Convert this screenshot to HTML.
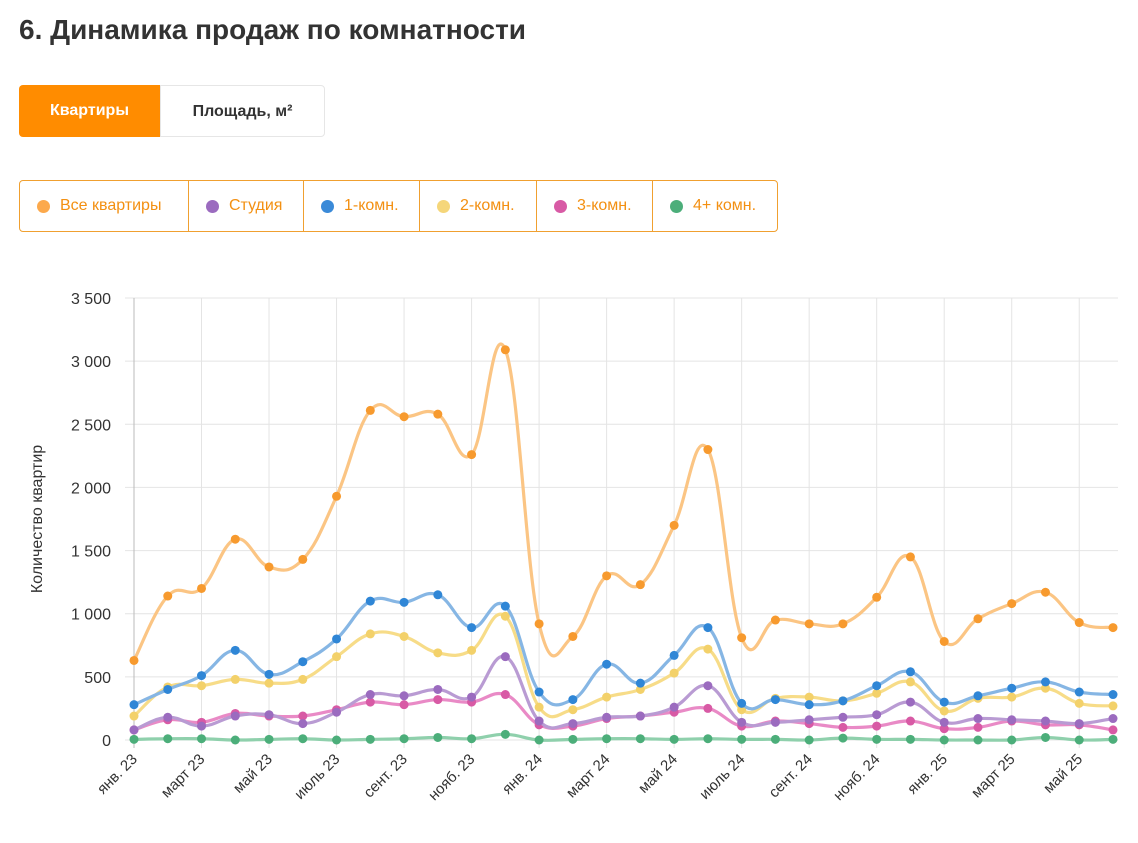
<!DOCTYPE html>
<html><head><meta charset="utf-8"><style>
body{margin:0;background:#fff;font-family:"Liberation Sans",sans-serif;width:1138px;height:843px;overflow:hidden;position:relative}
h1{position:absolute;left:19px;top:14px;margin:0;font-size:28px;font-weight:bold;color:#333}
.tab{position:absolute;top:85px;height:52px;line-height:52px;text-align:center;font-size:16px;font-weight:bold;box-sizing:border-box}
.leg{position:absolute;top:180px;height:52px;display:flex}
.li{border:1px solid #f0a030;margin-left:-1px;display:flex;align-items:center;padding:0 16px 0 17px;color:#f39012;font-size:16px;box-sizing:border-box;height:52px}
.li:first-child{border-radius:4px 0 0 4px;margin-left:0}.li:last-child{border-radius:0 4px 4px 0}
.dot{width:13px;height:13px;border-radius:50%;margin-right:10px}
svg{position:absolute;left:0;top:0}
</style></head><body>
<h1>6. Динамика продаж по комнатности</h1>
<div class="tab" style="left:19px;width:141px;background:#ff8c00;color:#fff;border-radius:4px 0 0 4px">Квартиры</div>
<div class="tab" style="left:160px;width:165px;border:1px solid #e6e6e6;color:#333;border-radius:0 4px 4px 0">Площадь, м²</div>
<div class="leg" style="left:19px">
<div class="li" style="width:170px"><span class="dot" style="background:#fca94c"></span>Все квартиры</div>
<div class="li" style="width:116px"><span class="dot" style="background:#9b6bbf"></span>Студия</div>
<div class="li" style="width:117px"><span class="dot" style="background:#3a8ad8"></span>1-комн.</div>
<div class="li" style="width:118px"><span class="dot" style="background:#f5d67a"></span>2-комн.</div>
<div class="li" style="width:117px"><span class="dot" style="background:#d85aa5"></span>3-комн.</div>
<div class="li" style="width:126px"><span class="dot" style="background:#4cae7a"></span>4+ комн.</div>
</div>
<svg id="chart" width="1138" height="843"></svg>
<script>
const months=["янв. 23","февр. 23","март 23","апр. 23","май 23","июнь 23","июль 23","авг. 23","сент. 23","окт. 23","нояб. 23","дек. 23","янв. 24","февр. 24","март 24","апр. 24","май 24","июнь 24","июль 24","авг. 24","сент. 24","окт. 24","нояб. 24","дек. 24","янв. 25","февр. 25","март 25","апр. 25","май 25","июнь 25"];
const yTicks=[0,500,1000,1500,2000,2500,3000,3500];
const allApts=[630,1140,1200,1590,1370,1430,1930,2610,2560,2580,2260,3090,920,820,1300,1230,1700,2300,810,950,920,920,1130,1450,780,960,1080,1170,930,890];
const room1=[280,400,510,710,520,620,800,1100,1090,1150,890,1060,380,320,600,450,670,890,290,320,280,310,430,540,300,350,410,460,380,360];
const room2=[190,420,430,480,450,480,660,840,820,690,710,980,260,240,340,400,530,720,240,330,340,310,370,460,230,330,340,410,290,270];
const studio=[80,180,110,190,200,130,220,360,350,400,340,660,150,130,180,190,260,430,140,140,160,180,200,300,140,170,160,150,130,170];
const room3=[80,160,140,210,190,190,240,300,280,320,300,360,120,110,170,190,220,250,110,150,130,100,110,150,90,100,150,120,120,80];
const room4=[5,10,10,0,5,10,0,5,10,20,10,45,0,5,10,10,5,10,5,5,0,15,5,5,0,0,0,20,0,5];
const NS="http://www.w3.org/2000/svg",svg=document.getElementById('chart');
const X0=134,X1=1113,Y0=740,Y1=298,YMAX=3500;
const xs=i=>X0+i*(X1-X0)/(months.length-1);
const ys=v=>Y0-v/YMAX*(Y0-Y1);
function mk(t,a,p){const e=document.createElementNS(NS,t);for(const k in a)e.setAttribute(k,a[k]);(p||svg).appendChild(e);return e;}
yTicks.forEach(v=>{
const l=mk('line',{x1:125,x2:X1+5,y1:ys(v),y2:ys(v),stroke:'#e4e4e4'});


const t=mk('text',{x:111,y:ys(v)+6,'text-anchor':'end','font-size':16,fill:'#333','font-family':'Liberation Sans, sans-serif'});
t.textContent=v===0?'0':(v>=1000?Math.floor(v/1000)+' '+String(v%1000).padStart(3,'0'):String(v));


});
months.forEach((m,i)=>{
if(i%2)return;
const x=xs(i);
const l=mk('line',{x1:x,x2:x,y1:Y1,y2:Y0+8,stroke:i===0?'#bbb':'#e4e4e4'});


const t=mk('text',{x:0,y:0,'text-anchor':'end','font-size':15,fill:'#333','font-family':'Liberation Sans, sans-serif',transform:`translate(${x+4},${Y0+20}) rotate(-45)`});
t.textContent=m;


});
const at=mk('text',{x:0,y:0,'text-anchor':'middle','font-size':16,fill:'#333','font-family':'Liberation Sans, sans-serif',transform:'translate(42,519) rotate(-90)'});
at.textContent='Количество квартир';


function path(vals){const p=vals.map((v,i)=>[xs(i),ys(v)]);let d=`M${p[0][0]},${p[0][1]}`;const k=0.2;
for(let i=0;i<p.length-1;i++){const a=p[i-1]||p[i],b=p[i],c=p[i+1],e=p[i+2]||c;
d+=` C${b[0]+(c[0]-a[0])*k},${b[1]+(c[1]-a[1])*k} ${c[0]-(e[0]-b[0])*k},${c[1]-(e[1]-b[1])*k} ${c[0]},${c[1]}`;}return d;}
const series=[[room4,'#8fd0ac','#4cae7a','series-4room'],[room3,'#e98ac6','#d85aa5','series-3room'],[studio,'#b99bd3','#9b6bbf','series-studio'],[room2,'#f7dc88','#f3d16a','series-2room'],[room1,'#86b6e4','#2f86d6','series-1room'],[allApts,'#fbc584','#f79a2e','series-all']];
series.forEach(([vals,lc,pc,name])=>{
const g=mk('g',{});


mk('path',{d:path(vals),fill:'none',stroke:lc,'stroke-width':3.2},g);
vals.forEach((v,i)=>{const c=mk('circle',{cx:xs(i),cy:ys(v),r:4.5,fill:pc},g);

});
});
</script>
</body></html>
